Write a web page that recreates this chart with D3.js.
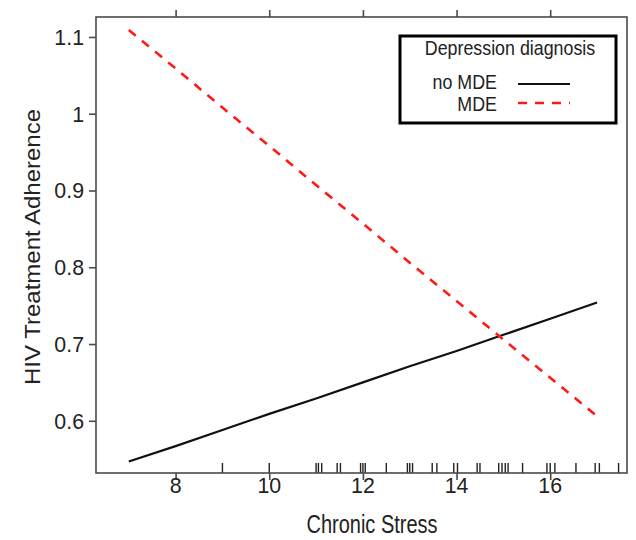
<!DOCTYPE html>
<html><head><meta charset="utf-8">
<script src="https://cdn.jsdelivr.net/npm/d3@7"></script>
<style>body{margin:0;background:#fff}svg{display:block}text{font-family:"Liberation Sans",Arial,sans-serif}</style>
</head><body>
<script>
// ---- data ----
const stress = [7, 8, 9, 10, 11, 12, 13, 14, 15, 16, 17];
const noMDE = [0.547, 0.567, 0.588, 0.609, 0.629, 0.650, 0.671, 0.691, 0.712, 0.733, 0.754];
const MDE   = [1.109, 1.059, 1.008, 0.958, 0.907, 0.857, 0.806, 0.756, 0.706, 0.656, 0.606];
const rug = [9, 10, 11, 11.05, 11.12, 11.45, 11.52, 11.95, 12, 12.05, 12.5, 12.95, 13, 13.06,
             13.48, 13.58, 13.94, 14.02, 14.44, 14.5, 14.9, 14.97, 15.04, 15.1, 15.41, 15.93,
             16.0, 16.1, 16.55, 16.96, 17.05, 17.46];
const xTicks = [8, 10, 12, 14, 16];
const yTicks = [0.6, 0.7, 0.8, 0.9, 1.0, 1.1];
const yTickLabels = ["0.6", "0.7", "0.8", "0.9", "1", "1.1"];
const legendTitle = "Depression diagnosis";
const seriesNames = ["no MDE", "MDE"];
const xTitle = "Chronic Stress";
const yTitle = "HIV Treatment Adherence";

const W = 636, H = 540;
const L = 96, R = 627, T = 17, B = 473;
const axisCol = "#4a4a4a";

const svg = d3.select("body").append("svg").attr("width", W).attr("height", H);
const x = d3.scaleLinear().domain([6.30, 17.64]).range([L, R]);
const y = d3.scaleLinear().domain([0.532, 1.126]).range([B, T]);

function txt(g, xx, yy, s, size, anchor, sx, rot) {
  return g.append("text")
    .attr("transform", `translate(${xx},${yy}) scale(${sx},1)` + (rot ? ` rotate(${rot})` : ""))
    .attr("text-anchor", anchor).attr("font-size", size).attr("fill", "#222").text(s);
}

// rug
svg.append("g").selectAll("line").data(rug).join("line")
  .attr("x1", d => x(d)).attr("x2", d => x(d))
  .attr("y1", B).attr("y2", B - 10)
  .attr("stroke", "#222").attr("stroke-width", 1.4);

// lines
const line = d3.line().x((d, i) => x(stress[i])).y(d => y(d));
svg.append("path").attr("d", line(noMDE)).attr("fill", "none")
  .attr("stroke", "#111").attr("stroke-width", 2.2);
svg.append("path").attr("d", line(MDE)).attr("fill", "none")
  .attr("stroke", "#ff1a1a").attr("stroke-width", 2.6).attr("stroke-dasharray", "9,8");

// axes
const gB = svg.append("g").attr("transform", `translate(0,${B})`)
  .call(d3.axisBottom(x).tickValues(xTicks).tickSize(7).tickFormat(""));
const gT = svg.append("g").attr("transform", `translate(0,${T})`)
  .call(d3.axisTop(x).tickValues(xTicks).tickSize(7).tickFormat(""));
const gL = svg.append("g").attr("transform", `translate(${L},0)`)
  .call(d3.axisLeft(y).tickValues(yTicks).tickSize(7).tickFormat(""));
[gB, gT, gL].forEach(g => {
  g.select(".domain").remove();
  g.selectAll(".tick line").attr("stroke", axisCol).attr("stroke-width", 1.6);
});
svg.append("rect").attr("x", L).attr("y", T).attr("width", R - L).attr("height", B - T)
  .attr("fill", "none").attr("stroke", axisCol).attr("stroke-width", 1.6);

// tick labels
const lab = svg.append("g");
xTicks.forEach(v => txt(lab, x(v), B + 20, String(v), 22, "middle", 0.97));
yTicks.forEach((v, i) => txt(lab, L - 12, y(v) + 8, yTickLabels[i], 22, "end", 0.97));

// axis titles
txt(svg, 372, H - 7, xTitle, 25, "middle", 0.8);
txt(svg, 40, (T + B) / 2 + 2, yTitle, 24, "middle", 0.95, -90);

// legend
const lg = svg.append("g");
lg.append("rect").attr("x", 400).attr("y", 36).attr("width", 216).attr("height", 87)
  .attr("fill", "#fff").attr("stroke", "#000").attr("stroke-width", 3);
txt(lg, 510, 55, legendTitle, 21, "middle", 0.85);
txt(lg, 497, 89, seriesNames[0], 21, "end", 0.85);
txt(lg, 497, 111, seriesNames[1], 21, "end", 0.85);
lg.append("line").attr("x1", 518).attr("x2", 570).attr("y1", 84).attr("y2", 84)
  .attr("stroke", "#111").attr("stroke-width", 2.2);
lg.append("line").attr("x1", 518).attr("x2", 570).attr("y1", 103).attr("y2", 103)
  .attr("stroke", "#ff1a1a").attr("stroke-width", 2.6).attr("stroke-dasharray", "9,8");
</script>
</body></html>
